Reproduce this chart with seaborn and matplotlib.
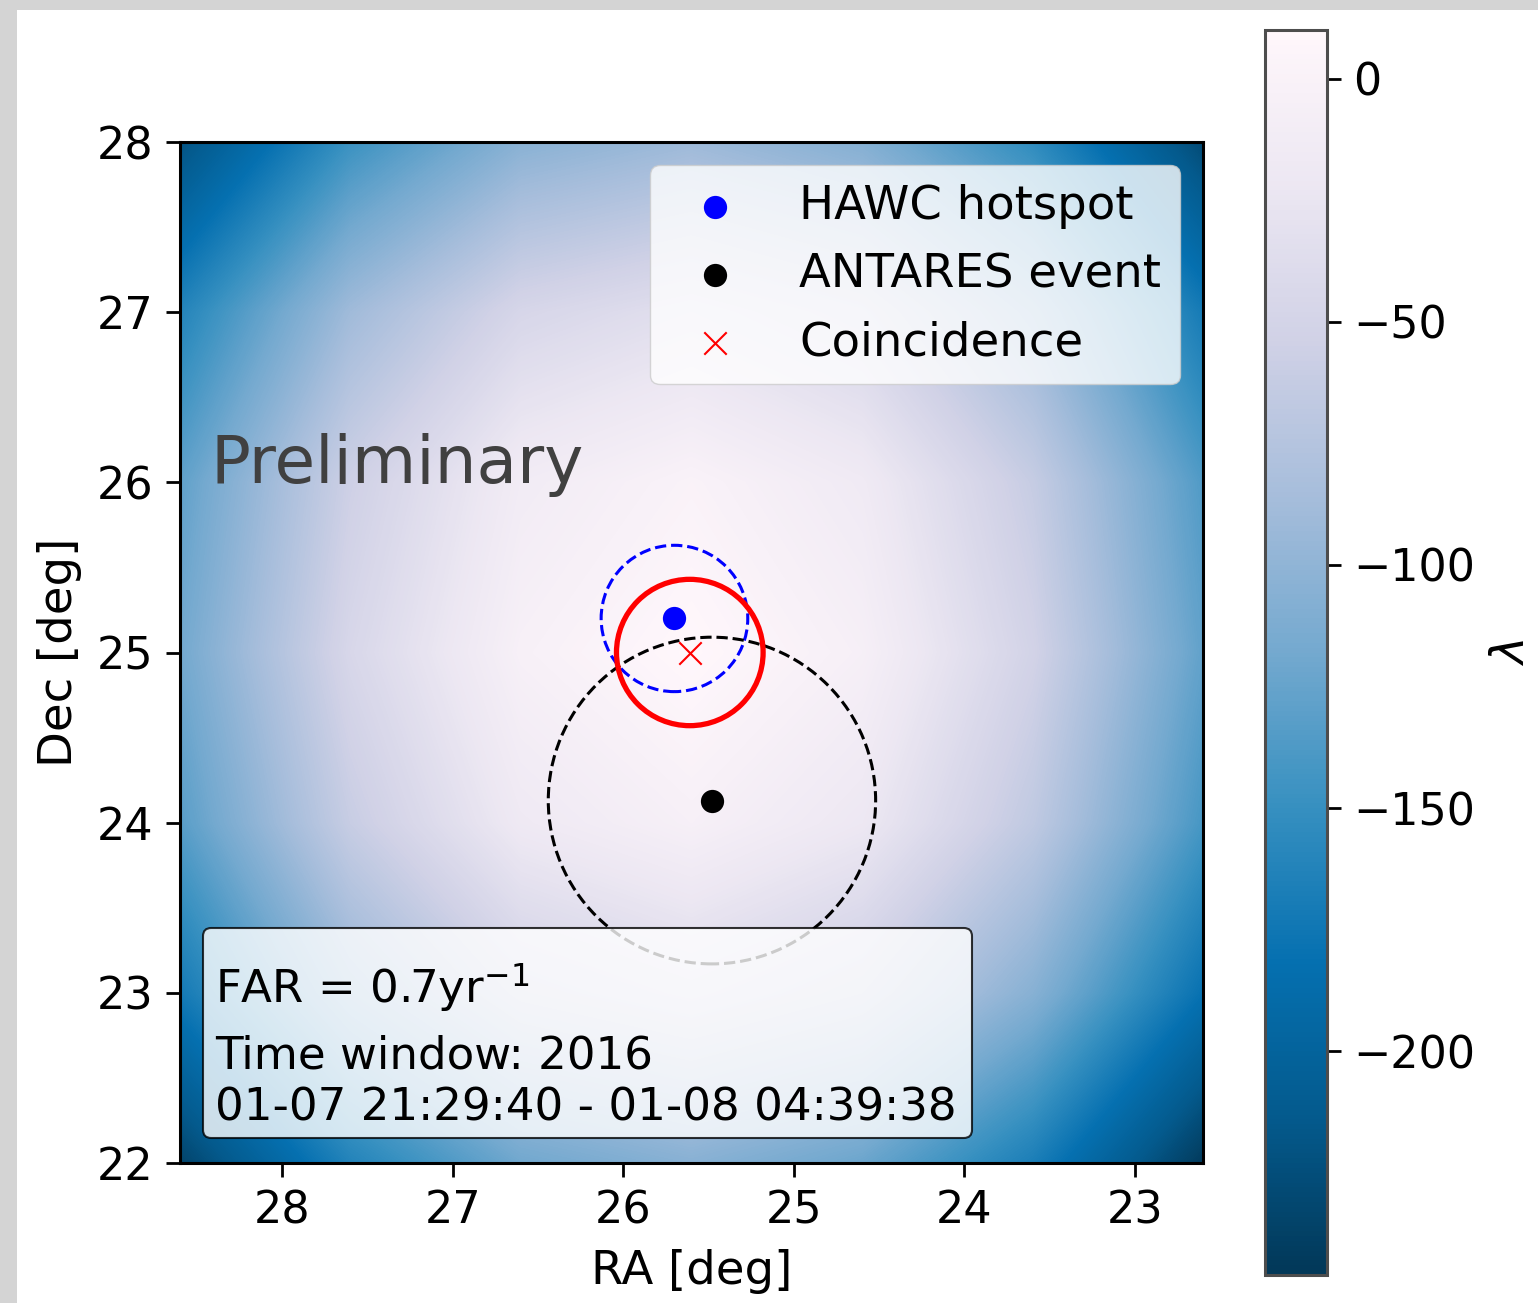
import matplotlib
matplotlib.use("Agg")
from matplotlib import pyplot as plt
from matplotlib.patches import Circle, Rectangle, FancyBboxPatch
import numpy as np
import seaborn as sns

# Likelihood map (lambda) at 1 deg nodes
ra_nodes = [28.6, 27.6, 26.6, 25.6, 24.6, 23.6, 22.6]
dec_nodes = [28, 27, 26, 25, 24, 23, 22]
lam_dec28 = [-221, -148, -105, -92, -108, -154, -229]
lam_dec27 = [-162, -90, -47, -34, -50, -96, -171]
lam_dec26 = [-129, -56, -13, 0, -16, -62, -137]
lam_dec25 = [-119, -46, -4, 10, -6, -52, -128]
lam_dec24 = [-133, -61, -18, -5, -21, -67, -142]
lam_dec23 = [-172, -100, -57, -43, -60, -106, -181]
lam_dec22 = [-235, -163, -120, -106, -123, -168, -244]

# sources: RA, Dec, error radius [deg]
hawc_ra, hawc_dec, hawc_err = 25.70, 25.20, 0.43
antares_ra, antares_dec, antares_err = 25.48, 24.13, 0.96
coinc_ra, coinc_dec, coinc_err = 25.61, 25.00, 0.43

cbar_ticks = [0, -50, -100, -150, -200]
lam_min, lam_max = -246, 10

info_lines = ["FAR = 0.7yr$^{-1}$", "Time window: 2016", "01-07 21:29:40 - 01-08 04:39:38"]

W, H = 1538, 1303
fig = plt.figure(figsize=(W / 100, H / 100), dpi=100, facecolor="#d4d4d4")
fig.add_artist(Rectangle((17 / W, 0), 1 - 17 / W, 1 - 10 / H, transform=fig.transFigure,
                         facecolor="white", edgecolor="none", zorder=-10))

ax = fig.add_axes([180 / W, 1 - 1163 / H, 1023 / W, 1021 / H])
cax = fig.add_axes([1265 / W, 1 - 1275 / H, 62 / W, 1245 / H])

grid = np.array([lam_dec28, lam_dec27, lam_dec26, lam_dec25, lam_dec24, lam_dec23, lam_dec22], dtype=float)
levels = np.linspace(lam_min, lam_max, 257)
field = ax.contourf(ra_nodes, dec_nodes, grid, levels=levels, cmap="PuBu_r",
                    vmin=lam_min, vmax=lam_max, antialiased=False, zorder=0)
ax.set_xlim(ra_nodes[0], ra_nodes[-1])
ax.set_ylim(dec_nodes[-1], dec_nodes[0])

# error circles
ax.add_patch(Circle((hawc_ra, hawc_dec), hawc_err, fill=False, ec="blue", ls="--", lw=2.2, zorder=2))
ax.add_patch(Circle((antares_ra, antares_dec), antares_err, fill=False, ec="black", ls="--", lw=2.2, zorder=2))
ax.add_patch(Circle((coinc_ra, coinc_dec), coinc_err, fill=False, ec="red", ls="-", lw=3.8, zorder=2))

# points
sns.scatterplot(x=[hawc_ra], y=[hawc_dec], color="blue", s=280, linewidth=0, label="HAWC hotspot", ax=ax, zorder=3)
sns.scatterplot(x=[antares_ra], y=[antares_dec], color="black", s=280, linewidth=0, label="ANTARES event", ax=ax, zorder=3)
sns.scatterplot(x=[coinc_ra], y=[coinc_dec], color="red", marker="x", s=260, linewidth=1.5, label="Coincidence", ax=ax, zorder=3)

fs_tick = 32
fs = 33.5
ax.legend(loc="upper right", fontsize=fs, framealpha=0.8)

ax.text(0.030, 0.666, "Preliminary", transform=ax.transAxes, fontsize=47.5, color="0.25", va="baseline")

# info box
x0, x1 = (203 - 180) / 1023, (972 - 180) / 1023
y0, y1 = (1163 - 1138) / 1021, (1163 - 928) / 1021
ax.add_patch(FancyBboxPatch((x0, y0), x1 - x0, y1 - y0, boxstyle="round,pad=0,rounding_size=0.008",
                            transform=ax.transAxes, facecolor="white", edgecolor="black",
                            alpha=0.8, lw=1.5, zorder=4))
for line, yb in zip(info_lines, [0.1567, 0.0930, 0.0421]):
    ax.text(0.0342, yb, line, transform=ax.transAxes, fontsize=32.5, va="baseline", ha="left", zorder=5)

ax.set_xticks([28, 27, 26, 25, 24, 23])
ax.set_yticks([22, 23, 24, 25, 26, 27, 28])
ax.set_xlabel("RA [deg]", fontsize=fs, labelpad=12)
ax.set_ylabel("Dec [deg]", fontsize=fs, labelpad=11)
ax.tick_params(labelsize=fs_tick, length=10, width=2, pad=9)
for sp in ax.spines.values():
    sp.set_linewidth(2.2)

cbar = fig.colorbar(field, cax=cax, ticks=cbar_ticks)
cbar.ax.tick_params(labelsize=fs_tick, length=10, width=2, pad=9)
cbar.outline.set_linewidth(2.2)
cbar.outline.set_edgecolor("0.3")
cbar.set_label(r"$\lambda$", fontsize=fs, labelpad=10)

fig.savefig("out.png", dpi=100)
